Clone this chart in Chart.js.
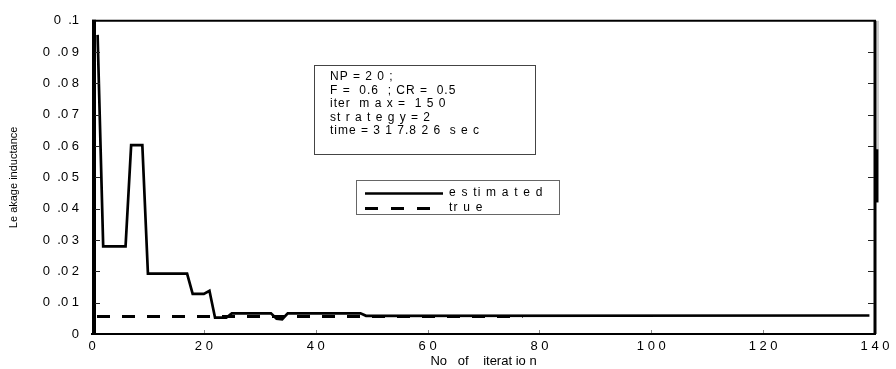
<!DOCTYPE html>
<html>
<head>
<meta charset="utf-8">
<script src="https://cdn.jsdelivr.net/npm/chart.js@4.4.0/dist/chart.umd.min.js"></script>
<style>
  html, body { margin: 0; padding: 0; background: #fff; }
  #wrap { width: 896px; height: 369px; }
</style>
</head>
<body>
<div id="wrap"><canvas id="c" width="896" height="369"></canvas></div>
<script>
// 数据：迭代次数 / 漏感估计值（从图上读出的折线拐点）
const iterEst = [1, 2, 6, 7, 9, 10, 17, 18, 20, 21, 22, 24, 25, 32, 33, 34, 35, 48, 49, 139];
const leakEst = [0.0955, 0.028, 0.028, 0.0603, 0.0603, 0.0193, 0.0193, 0.0128, 0.0128, 0.0138,
                 0.0052, 0.0052, 0.0066, 0.0066, 0.0049, 0.0047, 0.0066, 0.0066, 0.0058, 0.0059];
const iterTrue = [0, 77];
const leakTrue = [0.0056, 0.0056];

const xTicks = [0, 20, 40, 60, 80, 100, 120, 140];
const xTickLabels = ['0', '2 0', '4 0', '6 0', '8 0', '1 0 0', '1 2 0', '1 4 0'];
const yTicks = [0, 0.01, 0.02, 0.03, 0.04, 0.05, 0.06, 0.07, 0.08, 0.09, 0.1];
const yTickLabels = ['0', '0  .0 1', '0  .0 2', '0  .0 3', '0  .0 4', '0  .0 5',
                     '0  .0 6', '0  .0 7', '0  .0 8', '0  .0 9', '0  .1'];

const seriesNames = ['e s ti m a t e d', 'tr u e'];
const infoLines = ['NP = 2 0 ;', 'F =  0.6  ; CR =  0.5', 'iter  m a x =  1 5 0',
                   'st r a t e g y = 2', 'time = 3 1 7.8 2 6  s e c'];

const FONT = '"Liberation Sans", Arial, sans-serif';

function pts(xs, ys) {
  return xs.map((v, i) => ({ x: v, y: ys[i] }));
}
function labelFor(list, labels, v) {
  for (let i = 0; i < list.length; i++) {
    if (Math.abs(list[i] - v) < 1e-9) return labels[i];
  }
  return '';
}

// 边框、内向刻度、文本框和图例
const decor = {
  id: 'decor',
  afterDatasetsDraw(chart) {
    const { ctx, chartArea: a, scales } = chart;
    const xs = scales.x, ys = scales.y;
    ctx.save();
    ctx.strokeStyle = '#000';

    // 左轴加粗（稍偏右），上边和右边框
    ctx.lineWidth = 4;
    ctx.beginPath(); ctx.moveTo(a.left + 2, a.top - 1); ctx.lineTo(a.left + 2, a.bottom + 1); ctx.stroke();
    ctx.lineWidth = 2;
    ctx.beginPath(); ctx.moveTo(a.left, a.top); ctx.lineTo(a.right + 1, a.top); ctx.stroke();
    ctx.lineWidth = 3;
    ctx.beginPath(); ctx.moveTo(a.right, a.top); ctx.lineTo(a.right, a.bottom); ctx.stroke();

    // 右侧残留线条
    ctx.strokeStyle = '#999';
    ctx.lineWidth = 1;
    const h = a.bottom - a.top;
    ctx.beginPath(); ctx.moveTo(a.right + 3, a.top); ctx.lineTo(a.right + 3, a.top + h * 0.41); ctx.stroke();
    ctx.strokeStyle = '#000';
    ctx.lineWidth = 3;
    ctx.beginPath(); ctx.moveTo(a.right + 2, a.top + h * 0.41); ctx.lineTo(a.right + 2, a.top + h * 0.58); ctx.stroke();

    // 左右内向刻度
    ctx.lineWidth = 1;
    ctx.strokeStyle = '#222';
    yTicks.forEach(v => {
      if (v === 0 || v === 0.1) return;
      const py = Math.round(ys.getPixelForValue(v)) + 0.5;
      ctx.beginPath(); ctx.moveTo(a.left + 3, py); ctx.lineTo(a.left + 8, py); ctx.stroke();
      ctx.beginPath(); ctx.moveTo(a.right - 7, py); ctx.lineTo(a.right - 1, py); ctx.stroke();
    });
    ctx.strokeStyle = '#888';
    xTicks.forEach(v => {
      if (v === 0 || v === 140) return;
      const px = Math.round(xs.getPixelForValue(v)) + 0.5;
      ctx.beginPath(); ctx.moveTo(px, a.bottom - 1); ctx.lineTo(px, a.bottom - 4); ctx.stroke();
    });

    // 参数文本框
    ctx.fillStyle = '#fff';
    ctx.fillRect(314, 65, 221, 89);
    ctx.strokeStyle = '#444';
    ctx.lineWidth = 1;
    ctx.strokeRect(314.5, 65.5, 221, 89);
    ctx.fillStyle = '#000';
    ctx.font = '12px ' + FONT;
    ctx.letterSpacing = '1px';
    ctx.textBaseline = 'middle';
    ctx.textAlign = 'left';
    infoLines.forEach((t, i) => ctx.fillText(t, 330, 77 + i * 13.5));

    // 图例
    ctx.fillStyle = '#fff';
    ctx.fillRect(356, 180, 203, 34);
    ctx.strokeStyle = '#666';
    ctx.strokeRect(356.5, 180.5, 203, 34);
    const ds = chart.data.datasets;
    ctx.strokeStyle = '#000';
    ctx.lineWidth = ds[0].borderWidth;
    ctx.setLineDash([]);
    ctx.beginPath(); ctx.moveTo(365, 193.5); ctx.lineTo(443, 193.5); ctx.stroke();
    ctx.lineWidth = ds[1].borderWidth;
    ctx.setLineDash([13, 13]);
    ctx.beginPath(); ctx.moveTo(365, 208.5); ctx.lineTo(431, 208.5); ctx.stroke();
    ctx.setLineDash([]);
    ctx.fillStyle = '#000';
    ctx.font = '12px ' + FONT;
    ctx.letterSpacing = '1.2px';
    ctx.fillText(seriesNames[0], 449, 193);
    ctx.fillText(seriesNames[1], 449, 208);

    ctx.restore();
  }
};

const chart = new Chart(document.getElementById('c'), {
  type: 'line',
  data: {
    datasets: [
      {
        label: seriesNames[0],
        data: pts(iterEst, leakEst),
        borderColor: '#000',
        borderWidth: 2.7,
        pointRadius: 0,
        tension: 0,
        fill: false
      },
      {
        label: seriesNames[1],
        data: pts(iterTrue, leakTrue),
        borderColor: '#000',
        borderWidth: 3,
        borderDash: [13, 12],
        borderDashOffset: 20,
        pointRadius: 0,
        tension: 0,
        fill: false
      }
    ]
  },
  options: {
    responsive: false,
    animation: false,
    devicePixelRatio: 1,
    layout: { padding: { top: 15, right: 21, left: 0, bottom: 0 } },
    plugins: {
      legend: { display: false },
      tooltip: { enabled: false }
    },
    scales: {
      x: {
        type: 'linear',
        min: 0,
        max: 140,
        afterFit(s) { s.height = 35; },
        afterBuildTicks(s) { s.ticks = xTicks.map(v => ({ value: v })); },
        grid: { display: false, drawTicks: false },
        border: { display: true, color: '#000', width: 2 },
        ticks: {
          color: '#000',
          padding: 5,
          maxRotation: 0,
          autoSkip: false,
          font: { family: FONT, size: 13 },
          callback: v => labelFor(xTicks, xTickLabels, v)
        },
        title: {
          display: true,
          text: 'No   of    iterat io n',
          color: '#000',
          font: { family: FONT, size: 13, lineHeight: 1 },
          padding: { top: 0, bottom: 1 }
        }
      },
      y: {
        min: 0,
        max: 0.1,
        afterFit(s) { s.width = 92; },
        afterBuildTicks(s) { s.ticks = yTicks.map(v => ({ value: v })); },
        grid: { display: false, drawTicks: false },
        border: { display: false },
        ticks: {
          color: '#000',
          padding: 13,
          autoSkip: false,
          font: { family: FONT, size: 13 },
          callback: v => labelFor(yTicks, yTickLabels, v)
        },
        title: {
          display: true,
          text: 'Le akage inductance',
          color: '#000',
          font: { family: FONT, size: 11, lineHeight: 1 },
          padding: { top: 8, bottom: 0 }
        }
      }
    }
  },
  plugins: [decor]
});
</script>
</body>
</html>
